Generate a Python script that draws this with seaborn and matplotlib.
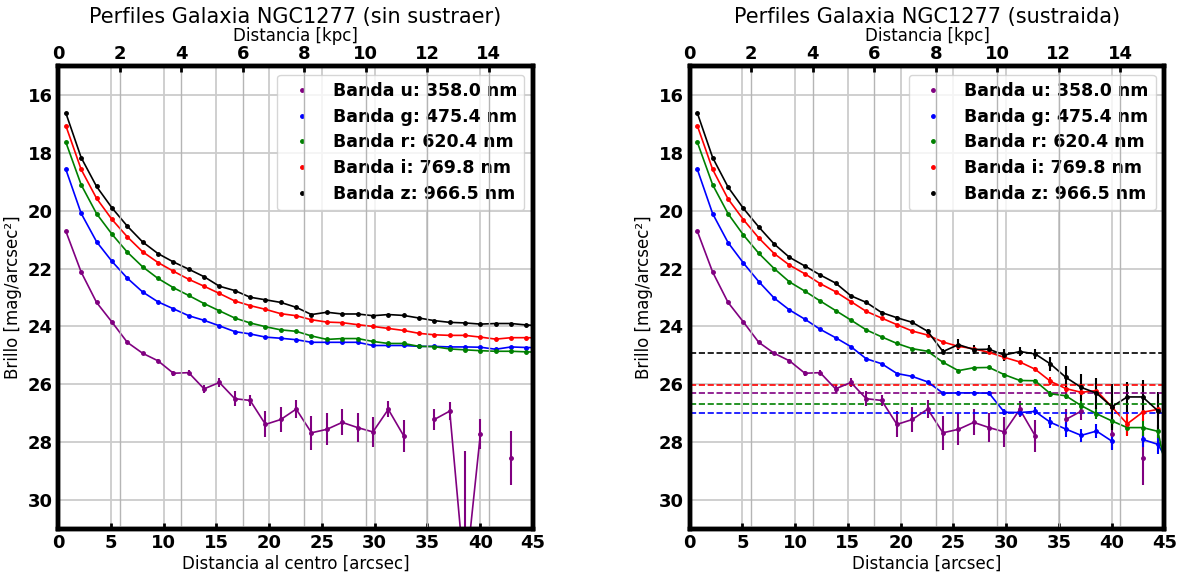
import numpy as np
import matplotlib
matplotlib.use('Agg')
import matplotlib.pyplot as plt
import seaborn as sns
from matplotlib.lines import Line2D

nan = np.nan

# radio de cada anillo [arcsec]
radio = [0.73, 2.18, 3.64, 5.10, 6.55, 8.01, 9.46, 10.92, 12.37, 13.83, 15.28,
         16.74, 18.19, 19.65, 21.10, 22.56, 24.01, 25.47, 26.92, 28.38, 29.83,
         31.29, 32.74, 34.20, 35.65, 37.11, 38.56, 40.02, 41.47, 42.93, 44.38, 45.84]
kpc_por_arcsec = 0.343

bandas = ['u', 'g', 'r', 'i', 'z']
longitudes = [358.0, 475.4, 620.4, 769.8, 966.5]
colores = ['purple', 'blue', 'green', 'red', 'black']

# perfiles sin sustraer el cielo
u_raw = [20.71, 22.12, 23.17, 23.85, 24.55, 24.93, 25.19, 25.62, 25.60, 26.16, 25.94,
         26.50, 26.56, 27.39, 27.22, 26.86, 27.68, 27.56, 27.32, 27.50, 27.65,
         26.87, 27.78, nan, 27.22, 26.93, 32.8, 27.71, nan, 28.56, nan, nan]
u_err = [0.02, 0.02, 0.03, 0.03, 0.04, 0.05, 0.06, 0.09, 0.09, 0.15, 0.14,
         0.26, 0.2, 0.45, 0.42, 0.3, 0.58, 0.55, 0.45, 0.5, 0.52,
         0.28, 0.55, nan, 0.35, 0.3, 4.5, 0.52, nan, 0.94, nan, nan]
g_raw = [18.57, 20.09, 21.07, 21.75, 22.33, 22.81, 23.15, 23.39, 23.63, 23.79, 23.98,
         24.18, 24.26, 24.37, 24.41, 24.46, 24.55, 24.55, 24.55, 24.55, 24.66,
         24.66, 24.66, 24.69, 24.69, 24.71, 24.71, 24.72, 24.79, 24.71, 24.73, 24.74]
r_raw = [17.63, 19.10, 20.10, 20.81, 21.43, 21.94, 22.34, 22.66, 22.93, 23.21, 23.46,
         23.71, 23.88, 24.01, 24.12, 24.17, 24.33, 24.45, 24.42, 24.42, 24.52,
         24.59, 24.59, 24.69, 24.70, 24.78, 24.81, 24.84, 24.86, 24.86, 24.88, 24.90]
i_raw = [17.06, 18.57, 19.57, 20.30, 20.90, 21.42, 21.79, 22.09, 22.37, 22.61, 22.86,
         23.12, 23.28, 23.41, 23.56, 23.63, 23.77, 23.85, 23.87, 23.94, 24.00,
         24.07, 24.14, 24.24, 24.29, 24.31, 24.31, 24.37, 24.44, 24.39, 24.39, 24.40]
z_raw = [16.62, 18.16, 19.16, 19.90, 20.53, 21.08, 21.48, 21.77, 22.02, 22.28, 22.61,
         22.76, 22.99, 23.08, 23.17, 23.34, 23.59, 23.51, 23.57, 23.57, 23.63,
         23.59, 23.62, 23.71, 23.80, 23.86, 23.88, 23.92, 23.90, 23.90, 23.95, 23.98]

# perfiles con el cielo sustraido
u_sub = [20.71, 22.12, 23.17, 23.85, 24.55, 24.93, 25.19, 25.62, 25.60, 26.16, 25.94,
         26.50, 26.56, 27.39, 27.22, 26.86, 27.68, 27.56, 27.32, 27.50, 27.65,
         26.87, 27.78, nan, 27.22, 26.93, nan, 27.71, nan, 28.56, nan, nan]
u_sub_err = [0.02, 0.02, 0.03, 0.03, 0.04, 0.05, 0.06, 0.09, 0.09, 0.15, 0.14,
             0.26, 0.2, 0.45, 0.42, 0.3, 0.58, 0.55, 0.45, 0.5, 0.52,
             0.28, 0.55, nan, 0.35, 0.3, nan, 0.52, nan, 0.94, nan, nan]
g_sub = [18.57, 20.10, 21.10, 21.81, 22.45, 23.02, 23.43, 23.75, 24.10, 24.39, 24.70,
         25.12, 25.29, 25.63, 25.73, 25.92, 26.31, 26.30, 26.30, 26.31, 26.97,
         26.98, 26.94, 27.32, 27.55, 27.77, 27.62, 27.97, nan, 27.91, 28.08, 29.0]
g_sub_err = [0.01, 0.01, 0.01, 0.01, 0.01, 0.01, 0.01, 0.01, 0.01, 0.01, 0.02,
             0.02, 0.02, 0.03, 0.03, 0.04, 0.05, 0.05, 0.06, 0.07, 0.1,
             0.1, 0.14, 0.2, 0.26, 0.23, 0.23, 0.29, nan, 0.26, 0.32, 0.4]
r_sub = [17.63, 19.10, 20.10, 20.84, 21.47, 22.00, 22.46, 22.78, 23.12, 23.45, 23.78,
         24.12, 24.36, 24.59, 24.77, 24.86, 25.24, 25.53, 25.43, 25.42, 25.67,
         25.87, 25.88, 26.33, 26.40, 26.74, 27.02, 27.27, 27.50, 27.50, 27.63, 30.1]
r_sub_err = [0.01, 0.01, 0.01, 0.01, 0.01, 0.01, 0.01, 0.01, 0.01, 0.01, 0.01,
             0.02, 0.02, 0.02, 0.03, 0.03, 0.03, 0.04, 0.04, 0.04, 0.05,
             0.05, 0.07, 0.1, 0.1, 0.15, 0.2, 0.25, 0.25, 0.3, 0.22, 0.3]
i_sub = [17.06, 18.57, 19.59, 20.31, 20.94, 21.48, 21.88, 22.18, 22.52, 22.80, 23.14,
         23.48, 23.71, 23.94, 24.16, 24.30, 24.54, 24.69, 24.77, 24.90, 25.07,
         25.23, 25.48, 25.90, 26.15, 26.28, 26.22, 26.79, 27.37, 26.97, 26.87, nan]
i_sub_err = [0.01, 0.01, 0.01, 0.01, 0.01, 0.01, 0.01, 0.01, 0.01, 0.01, 0.01,
             0.01, 0.02, 0.02, 0.02, 0.03, 0.03, 0.03, 0.04, 0.04, 0.05,
             0.05, 0.07, 0.14, 0.15, 0.15, 0.2, 0.29, 0.43, 0.3, 0.3, nan]
z_sub = [16.62, 18.16, 19.18, 19.92, 20.56, 21.15, 21.61, 21.91, 22.22, 22.50, 22.94,
         23.17, 23.52, 23.70, 23.86, 24.17, 24.87, 24.63, 24.80, 24.79, 24.99,
         24.87, 24.95, 25.30, 25.76, 26.11, 26.31, 26.78, 26.44, 26.44, 26.92, nan]
z_sub_err = [0.01, 0.01, 0.01, 0.01, 0.01, 0.01, 0.01, 0.01, 0.02, 0.02, 0.03,
             0.03, 0.04, 0.05, 0.06, 0.08, 0.1, 0.2, 0.15, 0.15, 0.2,
             0.15, 0.17, 0.25, 0.38, 0.46, 0.53, 0.8, 0.53, 0.6, 0.66, nan]

# nivel del cielo por banda [mag/arcsec2]
cielo = [26.32, 27.0, 26.69, 26.02, 24.92]

sns.set_style('white')
plt.rcParams['font.family'] = ['DejaVu Sans']
plt.rcParams['text.color'] = 'black'
plt.rcParams['axes.labelcolor'] = 'black'
plt.rcParams['xtick.color'] = 'black'
plt.rcParams['ytick.color'] = 'black'

fig, axes = plt.subplots(1, 2, figsize=(11.87, 5.76), dpi=100)
fig.subplots_adjust(left=0.049, right=0.981, bottom=0.082, top=0.885, wspace=0.33)

raw = [(u_raw, u_err), (g_raw, None), (r_raw, None), (i_raw, None), (z_raw, None)]
sub = [(u_sub, u_sub_err), (g_sub, g_sub_err), (r_sub, r_sub_err),
       (i_sub, i_sub_err), (z_sub, z_sub_err)]

for ax, perfiles, titulo, xlab, con_cielo in [
        (axes[0], raw, 'Perfiles Galaxia NGC1277 (sin sustraer)', 'Distancia al centro [arcsec]', False),
        (axes[1], sub, 'Perfiles Galaxia NGC1277 (sustraida)', 'Distancia [arcsec]', True)]:
    for (y, err), c in zip(perfiles, colores):
        ax.errorbar(radio, y, yerr=err, fmt='.-', color=c, ms=5, lw=1.2, elinewidth=1.5)
    if con_cielo:
        for s, c in zip(cielo, colores):
            ax.axhline(s, color=c, ls='--', lw=1.2)
    ax.set_xlim(0, 45)
    ax.set_ylim(31, 15)
    ax.set_yticks(range(16, 31, 2))
    ax.set_xticks(range(0, 46, 5))
    ax.grid(True, color='#cccccc', lw=1.3)
    ax.set_xlabel(xlab, fontsize=12, labelpad=2)
    ax.set_ylabel('Brillo [mag/arcsec²]', fontsize=12, labelpad=4)
    ax.tick_params(direction='in', length=4, width=2, labelsize=13, pad=4)
    for lab in ax.get_xticklabels() + ax.get_yticklabels():
        lab.set_fontweight('bold')
    for sp in ax.spines.values():
        sp.set_linewidth(3.2)
        sp.set_color('black')

    handles = [Line2D([], [], marker='.', ls='none', color=c, ms=5) for c in colores]
    labels = [f'Banda {b}: {l:.1f} nm' for b, l in zip(bandas, longitudes)]
    ax.legend(handles, labels, loc='upper right', prop={'weight': 'bold', 'size': 12.5},
              framealpha=0.8, borderaxespad=0.5, labelspacing=0.45)

    top = ax.twiny()
    top.set_xlim(0, 45 * kpc_por_arcsec)
    top.set_xticks(range(0, 16, 2))
    top.grid(True, color='#b5b5b5', lw=1.0)
    top.tick_params(direction='in', length=4, width=2, labelsize=13, pad=2)
    for lab in top.get_xticklabels():
        lab.set_fontweight('bold')
    for sp in top.spines.values():
        sp.set_linewidth(3.2)
        sp.set_color('black')
    top.set_xlabel('Distancia [kpc]', fontsize=12, labelpad=3)
    top.set_title(titulo, fontsize=15, pad=2)

fig.savefig('out.png', dpi=100)
